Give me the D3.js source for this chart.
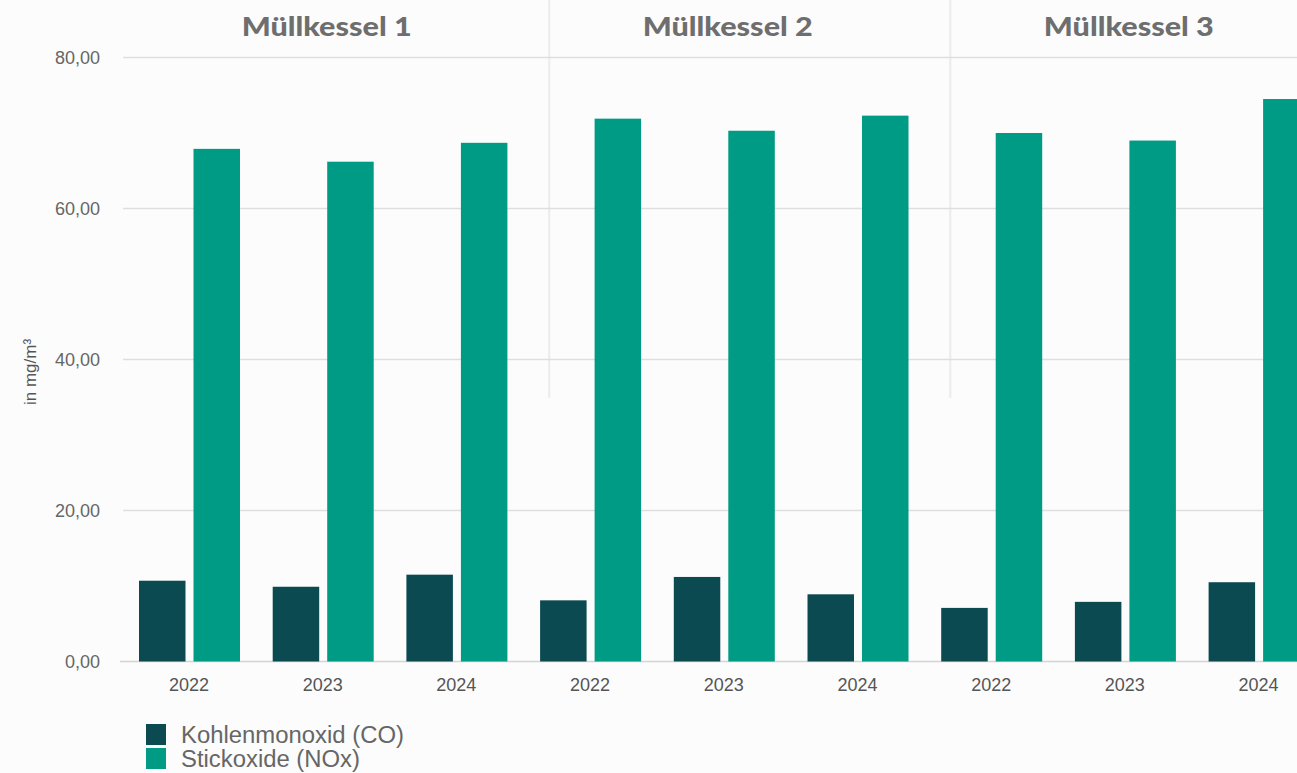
<!DOCTYPE html>
<html><head><meta charset="utf-8">
<script src="https://cdn.jsdelivr.net/npm/d3@7/dist/d3.min.js"></script>
<style>
html,body{margin:0;padding:0;background:#fcfcfc;overflow:hidden;}
svg{display:block;}
</style></head>
<body>
<svg id="chart" width="1297" height="773"></svg>
<script>
const groups = ["Müllkessel 1","Müllkessel 2","Müllkessel 3"];
const years = ["2022","2023","2024"];
const series = ["Kohlenmonoxid (CO)","Stickoxide (NOx)"];
const coValues = [10.7, 9.9, 11.5, 8.1, 11.2, 8.9, 7.1, 7.9, 10.5];
const noxValues = [67.9, 66.2, 68.7, 71.9, 70.3, 72.3, 70.0, 69.0, 74.5];
const yTicks = [0, 20, 40, 60, 80];
const colors = ["#0c4a52", "#009b84"];

const svg = d3.select("#chart");
const W = 1297, H = 773;
svg.append("rect").attr("width", W).attr("height", H).attr("fill", "#fcfcfc");

const cats = [];
groups.forEach((g, gi) => years.forEach((yr, yi) => cats.push({id: g + "|" + yr, group: g, year: yr, co: coValues[gi*3+yi], nox: noxValues[gi*3+yi]})));

const x = d3.scaleBand().domain(cats.map(d => d.id)).range([122.6, 1325.9]).padding(0);
const xs = d3.scaleBand().domain(series).range([16.4, 117.4]).paddingInner(0.147).paddingOuter(0);
const y = d3.scaleLinear().domain([0, 80]).range([661.5, 57.5]);

// separators between panels
for (let i = 1; i < groups.length; i++) {
  const xx = x(cats[i*3].id) + 25.5;
  svg.append("line").attr("x1", xx).attr("x2", xx).attr("y1", 0).attr("y2", 398)
    .attr("stroke", "#ececec").attr("stroke-width", 2);
}

// gridlines
svg.append("g").selectAll("line").data(yTicks).join("line")
  .attr("x1", d => d === 0 ? 120 : 123).attr("x2", W)
  .attr("y1", d => y(d)).attr("y2", d => y(d))
  .attr("stroke", d => d === 0 ? "#d4d4d4" : "#dedede").attr("stroke-width", 1.6);

// y tick labels
svg.append("g").selectAll("text").data(yTicks).join("text")
  .attr("x", 100).attr("y", d => y(d)).attr("dy", "0.35em")
  .attr("text-anchor", "end")
  .attr("font-family", "Liberation Sans, Arial, sans-serif").attr("font-size", 18)
  .attr("fill", "#666")
  .text(d => d3.format(".2f")(d).replace(".", ","));

// y title
svg.append("text").attr("transform", "translate(36,372) rotate(-90)")
  .attr("text-anchor", "middle")
  .attr("font-family", "Liberation Sans, Arial, sans-serif").attr("font-size", 17)
  .attr("fill", "#555").text("in mg/m³");

// bars
const gBars = svg.append("g");
const bg = gBars.selectAll("g").data(cats).join("g").attr("transform", d => `translate(${x(d.id)},0)`);
bg.selectAll("rect").data(d => [{s: series[0], v: d.co}, {s: series[1], v: d.nox}]).join("rect")
  .attr("x", d => xs(d.s)).attr("width", xs.bandwidth())
  .attr("y", d => y(d.v)).attr("height", d => y(0) - y(d.v))
  .attr("fill", (d, i) => colors[i]);

// x labels
svg.append("g").selectAll("text").data(cats).join("text")
  .attr("x", d => x(d.id) + x.bandwidth()/2 - 0.5).attr("y", 691)
  .attr("text-anchor", "middle")
  .attr("font-family", "Liberation Sans, Arial, sans-serif").attr("font-size", 18)
  .attr("fill", "#555").text(d => d.year);

// panel titles
svg.append("g").selectAll("text").data(groups).join("text")
  .attr("x", (g, i) => x(cats[i*3+1].id) + x.bandwidth()/2 + 3.5).attr("y", 36)
  .attr("text-anchor", "middle")
  .attr("font-family", "Lato, Open Sans, sans-serif").attr("font-weight", 900).attr("font-size", 27)
  .attr("textLength", 170).attr("lengthAdjust", "spacingAndGlyphs")
  .attr("fill", "#6e6e6e").text(d => d);

// legend
const lg = svg.append("g").attr("transform", "translate(146,724)");
const li = lg.selectAll("g").data(series).join("g").attr("transform", (d, i) => `translate(0,${i*24})`);
li.append("rect").attr("width", 20).attr("height", 21).attr("fill", (d, i) => colors[i]);
li.append("text").attr("x", 35).attr("y", 19)
  .attr("font-family", "Liberation Sans, Arial, sans-serif").attr("font-size", 23)
  .attr("textLength", (d, i) => i === 0 ? 223 : 179).attr("lengthAdjust", "spacingAndGlyphs")
  .attr("fill", "#666").text(d => d);
</script>
</body></html>
